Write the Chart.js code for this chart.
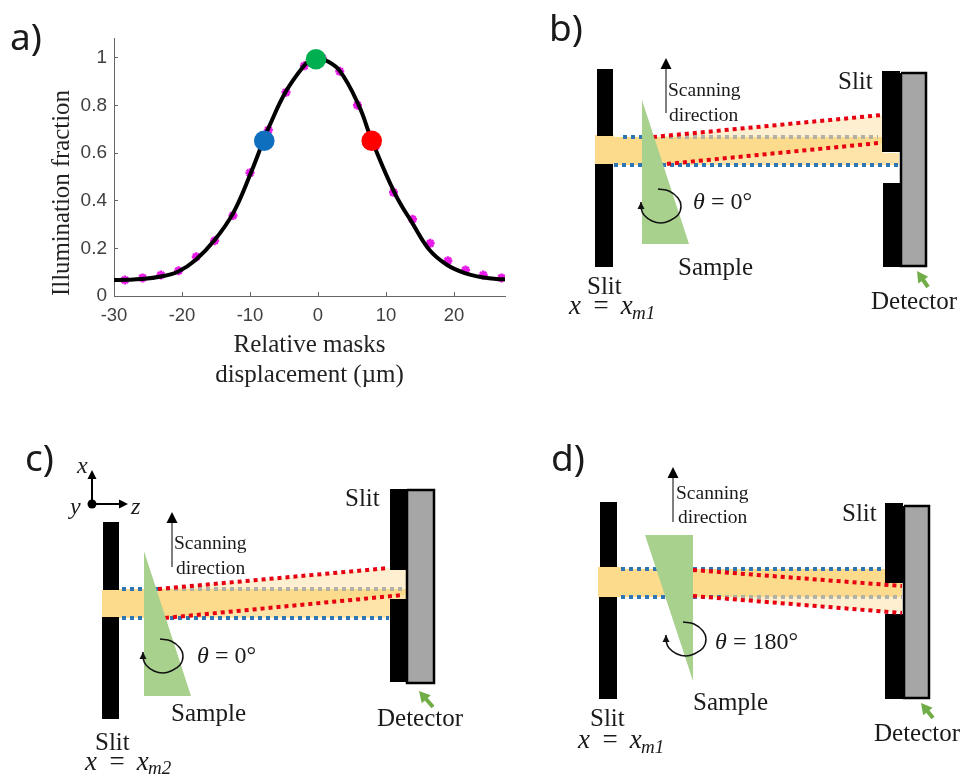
<!DOCTYPE html>
<html>
<head>
<meta charset="utf-8">
<title>Illumination fraction and slit scanning geometry</title>
<script src="https://cdn.jsdelivr.net/npm/chart.js@4/dist/chart.umd.min.js"></script>
<style>
    body { margin: 0; background: #fff; }
    canvas { position: absolute; left: 0; top: 0; }
</style>
</head>
<body>
<canvas id="curve" width="520" height="400"></canvas>
<canvas id="diagram" width="960" height="774"></canvas>
<script>
// panel a: measured points, fitted curve and the three marked positions
const measuredX = [-28.4, -25.8, -23.1, -20.5, -17.9, -15.2, -12.5, -10, -7.3, -4.7, -2, 0.6, 3.2, 5.8, 8.5, 11.1, 13.9, 16.5, 19.1, 21.7, 24.3, 27];
const measuredY = [0.067, 0.076, 0.088, 0.106, 0.165, 0.232, 0.338, 0.517, 0.697, 0.855, 0.966, 1, 0.943, 0.801, 0.63, 0.435, 0.322, 0.221, 0.148, 0.109, 0.088, 0.076];
const fitX = [-30, -28, -26, -23.3, -20.6, -18, -15.2, -12.5, -10, -8, -7.3, -4.75, -2, -1, 0, 1, 3.2, 6, 7.9, 11.3, 13.9, 16.4, 19, 21.7, 24.3, 27, 27.5];
const fitY = [0.067, 0.068, 0.071, 0.081, 0.102, 0.151, 0.235, 0.347, 0.508, 0.655, 0.704, 0.857, 0.969, 0.992, 1, 0.992, 0.945, 0.8, 0.655, 0.431, 0.305, 0.193, 0.13, 0.095, 0.078, 0.07, 0.07];
const markedX = [-7.9, -0.3, 7.9];
const markedY = [0.652, 0.994, 0.652];
const markedColors = ["#0F6FBF", "#00B050", "#FF0000"];
const yTickValues = [0, 0.2, 0.4, 0.6, 0.8, 1];

// panels b, c, d in page pixels: rectangles are [x0, y0, x1, y1], the rest are point lists
const slitsB = [[597, 69, 613, 136], [595, 164, 613, 267], [882, 71, 900, 152], [883, 183, 900, 267]];
const slitsC = [[103, 522, 119, 590], [102, 617, 119, 719], [390, 489, 408, 570], [390, 599, 408, 682]];
const slitsD = [[600, 502, 617, 567], [599, 597, 617, 699], [885, 503, 903, 583], [885, 614, 903, 699]];

const beamLeftB = [595, 135, 614, 164];
const beamLeftC = [102, 590, 119, 617];
const beamLeftD = [598, 567, 621, 597];
const bodyB = [[614, 137], [883, 137], [883, 153], [899, 153], [899, 165], [614, 165]];
const bodyC = [[119, 589], [406, 589], [406, 599], [390, 599], [390, 618], [119, 618]];
const bodyD = [[621, 569], [885, 569], [885, 583], [902, 583], [902, 597], [621, 597]];
const coreB = [[614, 137], [883, 137], [883, 143], [668, 165], [614, 165]];
const coreC = [[119, 589], [406, 589], [406, 595], [165, 618], [119, 618]];
const coreD = [[621, 569], [885, 569], [885, 583], [902, 583], [902, 597], [621, 597]];
const wedgeB = [[653, 137], [883, 115], [883, 137]];
const wedgeC = [[158, 589], [390, 568], [390, 570], [406, 570], [406, 589]];
const wedgeD = [[693, 597], [902, 597], [902, 613]];

const sampleB = [[642, 100], [642, 244], [689, 244]];
const sampleC = [[144, 551], [144, 696], [191, 696]];
const sampleD = [[645, 535], [693, 535], [693, 681]];
const detectorB = [901, 73, 926, 266];
const detectorC = [407, 490, 434, 683];
const detectorD = [904, 506, 929, 698];

const blueB = [[[623, 137], [653, 137]], [[614, 165], [899, 165]]];
const blueC = [[[122, 589], [158, 589]], [[122, 618], [389, 618]]];
const blueD = [[[621, 569], [885, 569]], [[621, 597], [725, 597]]];
const grayB = [[653, 137], [878, 137]];
const grayC = [[158, 589], [405, 589]];
const grayD = [[725, 597], [902, 597]];
const redB = [[[653, 137], [882, 115]], [[667, 164], [879, 143]]];
const redC = [[[158, 589], [389, 568]], [[165, 618], [403, 595]]];
const redD = [[[693, 570], [902, 586]], [[693, 596], [902, 613]]];

const scanB = [[666, 113], [666, 58]];
const scanC = [[172, 567], [172, 512]];
const scanD = [[673, 522], [673, 467]];
const pointerB = [[928, 287], [917, 271]];
const pointerC = [[433, 707], [419, 691]];
const pointerD = [[933, 718], [921, 703]];
const rotationCenters = [[661, 206], [163, 656], [686, 639]];
const rotationArc = [[-3, -17], [8, -15], [17, -8], [20, 0], [17, 9], [8, 15], [0, 17], [-9, 15], [-17, 9], [-20, 2], [-20, -4]];
const axisUp = [[92, 504], [92, 470]];
const axisRight = [[92, 504], [128, 504]];
const axisOrigin = [[92, 504]];

const labelFonts = {
    panel: '37px "Noto Sans"',
    scan: '19.5px "Liberation Serif"',
    big: '25px "Liberation Serif"',
    math: 'italic 27px "Liberation Serif"',
    sub: 'italic 19px "Liberation Serif"',
    theta: 'italic 24px "Liberation Serif"',
    angle: '24px "Liberation Serif"',
    axis: 'italic 24px "Liberation Serif"',
};
const diagramLabels = [
    ["a)", 10, 39, "panel"], ["b)", 549, 30, "panel"], ["c)", 25, 460, "panel"], ["d)", 551, 460, "panel"],
    ["Scanning", 668, 91, "scan"], ["direction", 669, 116, "scan"],
    ["Slit", 838, 82, "big"], ["Sample", 678, 268, "big"], ["Detector", 871, 302, "big"], ["Slit", 587, 287, "big"],
    ["x = x", 569, 307, "math"], ["m1", 632, 314, "sub"],
    ["θ", 693, 203, "theta"], [" = 0°", 705, 203, "angle"],
    ["Scanning", 174, 544, "scan"], ["direction", 176, 569, "scan"],
    ["Slit", 345, 499, "big"], ["Sample", 171, 714, "big"], ["Detector", 377, 719, "big"], ["Slit", 95, 743, "big"],
    ["x = x", 85, 763, "math"], ["m2", 148, 769, "sub"],
    ["θ", 197, 657, "theta"], [" = 0°", 209, 657, "angle"],
    ["x", 77, 467, "axis"], ["y", 70, 508, "axis"], ["z", 131, 508, "axis"],
    ["Scanning", 676, 494, "scan"], ["direction", 678, 518, "scan"],
    ["Slit", 842, 514, "big"], ["Sample", 693, 703, "big"], ["Detector", 874, 734, "big"], ["Slit", 590, 719, "big"],
    ["x = x", 578, 741, "math"], ["m1", 641, 748, "sub"],
    ["θ", 715, 643, "theta"], [" = 180°", 727, 643, "angle"],
];

const toXY = (points) => points.map(([x, y]) => ({ x, y }));
const rectPoints = ([x0, y0, x1, y1]) => [[x0, y0], [x1, y0], [x1, y1], [x0, y1]];

const shape = (points, color) => ({
    data: toXY(points),
    showLine: true,
    fill: "shape",
    backgroundColor: color,
    borderWidth: 0,
    pointRadius: 0,
});

const stroke = (points, color, width, dash) => ({
    data: toXY(points),
    showLine: true,
    fill: false,
    borderColor: color,
    borderWidth: width,
    borderDash: dash || [],
    pointRadius: 0,
});

// arrow head is taken from the direction of the last two points
const arrowHead = (points, length, halfWidth, color) => {
    const [ax, ay] = points[points.length - 2];
    const [bx, by] = points[points.length - 1];
    const d = Math.hypot(bx - ax, by - ay);
    const ux = (bx - ax) / d;
    const uy = (by - ay) / d;
    const cx = bx - ux * length;
    const cy = by - uy * length;
    return shape([[bx, by], [cx - uy * halfWidth, cy + ux * halfWidth], [cx + uy * halfWidth, cy - ux * halfWidth]], color);
};

const DOTS = [4, 4];
const buildPanel = (p) => {
    const arc = rotationArc.map(([x, y]) => [p.center[0] + x, p.center[1] + y]);
    const scanShaft = [p.scan[0], [p.scan[1][0], p.scan[1][1] + 8]];
    const pointerShaft = [p.pointer[0], [(p.pointer[0][0] + p.pointer[1][0]) / 2, (p.pointer[0][1] + p.pointer[1][1]) / 2]];
    const curved = stroke(arc, "#111", 1.5);
    curved.tension = 0.4;
    return [
        shape(rectPoints(p.beamLeft), "#FDDB8D"),
        shape(p.body, "#FEE4A8"),
        shape(p.core, "#FDDB8D"),
        shape(p.wedge, "#FDEFD0"),
        ...p.slits.map((r) => shape(rectPoints(r), "#000")),
        stroke(p.gray, "#B0B0A4", 4, DOTS),
        ...p.blue.map((l) => stroke(l, "#2E75B6", 4, DOTS)),
        ...p.red.map((l) => stroke(l, "#E60012", 4, DOTS)),
        shape(p.sample, "#A9D18E"),
        {
            ...shape(rectPoints(p.detector), "#A6A6A6"),
            data: toXY([...rectPoints(p.detector), rectPoints(p.detector)[0]]),
            borderColor: "#000",
            borderWidth: 2.5,
        },
        stroke(scanShaft, "#555", 1.5),
        arrowHead(p.scan, 11, 5.5, "#000"),
        stroke(pointerShaft, "#70AD47", 4),
        arrowHead(p.pointer, 11, 6, "#70AD47"),
        curved,
        arrowHead(arc.slice(-2), 7, 3.5, "#111"),
    ];
};

const panelB = { slits: slitsB, beamLeft: beamLeftB, body: bodyB, core: coreB, wedge: wedgeB, sample: sampleB, detector: detectorB, blue: blueB, gray: grayB, red: redB, scan: scanB, pointer: pointerB, center: rotationCenters[0] };
const panelC = { slits: slitsC, beamLeft: beamLeftC, body: bodyC, core: coreC, wedge: wedgeC, sample: sampleC, detector: detectorC, blue: blueC, gray: grayC, red: redC, scan: scanC, pointer: pointerC, center: rotationCenters[1] };
const panelD = { slits: slitsD, beamLeft: beamLeftD, body: bodyD, core: coreD, wedge: wedgeD, sample: sampleD, detector: detectorD, blue: blueD, gray: grayD, red: redD, scan: scanD, pointer: pointerD, center: rotationCenters[2] };

const axisSets = [
    stroke([axisUp[0], [axisUp[1][0], axisUp[1][1] + 8]], "#000", 2),
    arrowHead(axisUp, 9, 4.5, "#000"),
    stroke([axisRight[0], [axisRight[1][0] - 8, axisRight[1][1]]], "#000", 2),
    arrowHead(axisRight, 9, 4.5, "#000"),
    { data: toXY(axisOrigin), pointRadius: 4.5, pointBackgroundColor: "#000", pointBorderWidth: 0 },
];

const labelPlugin = {
    id: "diagramLabels",
    afterDatasetsDraw(chart) {
        const { ctx, scales } = chart;
        ctx.save();
        ctx.fillStyle = "#1a1a1a";
        ctx.textBaseline = "middle";
        ctx.textAlign = "left";
        diagramLabels.forEach(([text, x, y, kind]) => {
            ctx.font = labelFonts[kind];
            ctx.letterSpacing = kind === "math" ? "2px" : "0px";
            ctx.fillText(text, scales.x.getPixelForValue(x), scales.y.getPixelForValue(y));
        });
        ctx.restore();
    },
};

new Chart(document.getElementById("curve"), {
    type: "scatter",
    data: {
        datasets: [
            {
                label: "Marked positions",
                data: markedX.map((x, i) => ({ x, y: markedY[i] })),
                pointRadius: 10.3,
                pointBackgroundColor: markedColors,
                pointBorderWidth: 0,
                order: 1,
            },
            {
                label: "Fit",
                data: fitX.map((x, i) => ({ x, y: fitY[i] })),
                showLine: true,
                borderColor: "#000",
                borderWidth: 4,
                pointRadius: 0,
                tension: 0.4,
                clip: false,
                order: 2,
            },
            {
                label: "Measured",
                data: measuredX.map((x, i) => ({ x, y: measuredY[i] })),
                pointStyle: "star",
                pointRadius: 4.5,
                pointBorderColor: "#E81BE8",
                pointBorderWidth: 2.5,
                order: 3,
            },
        ],
    },
    options: {
        responsive: false,
        animation: false,
        layout: { autoPadding: false, padding: { top: 38, right: 15 } },
        plugins: { legend: { display: false }, tooltip: { enabled: false } },
        scales: {
            x: {
                type: "linear",
                min: -30,
                max: 27.5,
                afterFit: (scale) => { scale.height = 104; },
                border: { color: "#666", width: 1 },
                grid: { drawOnChartArea: false, color: "#666", tickLength: -4 },
                ticks: {
                    stepSize: 10,
                    includeBounds: false,
                    maxRotation: 0,
                    padding: 13,
                    color: "#404040",
                    font: { family: "Liberation Sans", size: 18.5 },
                },
                title: {
                    display: true,
                    text: ["Relative masks", "displacement (µm)"],
                    color: "#222",
                    font: { family: "Liberation Serif", size: 25, lineHeight: 1.2 },
                    padding: { top: 0, bottom: 10 },
                },
            },
            y: {
                min: 0,
                max: 1.083,
                afterFit: (scale) => { scale.width = 114; },
                afterBuildTicks: (scale) => { scale.ticks = yTickValues.map((value) => ({ value })); },
                border: { color: "#666", width: 1 },
                grid: { drawOnChartArea: false, color: "#666", tickLength: -4 },
                ticks: {
                    padding: 11,
                    color: "#404040",
                    font: { family: "Liberation Sans", size: 19 },
                    callback: (value) => String(value),
                },
                title: {
                    display: true,
                    text: "Illumination fraction",
                    align: "start",
                    color: "#222",
                    font: { family: "Liberation Serif", size: 24.8, lineHeight: 1.2 },
                    padding: { top: 48, bottom: 0 },
                },
            },
        },
    },
});

// first dataset is painted last, so the paint-order list is reversed
const diagramSets = [...buildPanel(panelB), ...buildPanel(panelC), ...buildPanel(panelD), ...axisSets].reverse();

new Chart(document.getElementById("diagram"), {
    type: "scatter",
    data: { datasets: diagramSets },
    options: {
        responsive: false,
        animation: false,
        events: [],
        layout: { autoPadding: false },
        plugins: {
            legend: { display: false },
            tooltip: { enabled: false },
            filler: { drawTime: "beforeDatasetDraw" },
        },
        scales: {
            x: { type: "linear", min: 0, max: 960, display: false },
            y: { type: "linear", min: 0, max: 774, reverse: true, display: false },
        },
    },
    plugins: [labelPlugin],
});
</script>
</body>
</html>
